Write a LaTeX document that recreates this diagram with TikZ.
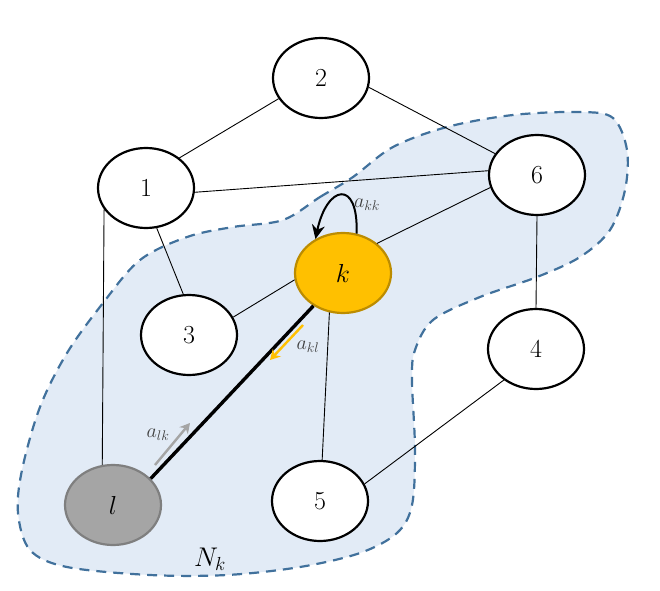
\RequirePackage{fix-cm}
\documentclass[tikz,border=0pt]{standalone}
\usetikzlibrary{shapes.geometric,arrows.meta}
\definecolor{blobfill}{HTML}{E2EBF6}
\definecolor{blobline}{HTML}{41719C}
\definecolor{kfill}{HTML}{FFC000}
\definecolor{kline}{HTML}{BC8C00}
\definecolor{lfill}{HTML}{A5A5A5}
\definecolor{lline}{HTML}{7F7F7F}
\definecolor{labgray}{HTML}{404040}
\begin{document}
\begin{tikzpicture}[x=1pt,y=1pt,>={Stealth[length=14pt,width=13pt]},
	vert/.style={ellipse,draw,line width=2.2pt,fill=white,minimum width=96pt,
		minimum height=80pt,inner sep=0pt,font=\fontsize{26}{30}\selectfont},
	edge/.style={line width=0.9pt},
	weight/.style={font=\fontsize{20}{22}\selectfont,text=labgray}]
	\useasboundingbox (0,0) rectangle (660,590);
	% neighbourhood of k
	\draw[blobline,fill=blobfill,line width=2.2pt,dash pattern=on 10pt off 7pt]
	plot[smooth cycle,tension=0.55] coordinates {(283,370) (320,393) (353,413)
		(393,443) (447,463) (513,475) (580,478) (613,472) (627,440) (625,400)
		(610,360) (580,333) (537,313) (480,293) (433,270) (415,240) (412,210)
		(415,140) (412,85) (397,57) (360,37) (300,23) (227,15) (150,15) (67,23)
		(30,40) (18,77) (22,120) (40,183) (67,237) (103,287) (140,330) (187,353)
		(233,363)};
	\node[weight,text=black,font=\fontsize{27}{30}\selectfont] (nk) at (210,31) {$N_k$};
	% nodes
	\node[vert] (n2) at (321,512) {2};
	\node[vert] (n1) at (146,402) {1};
	\node[vert] (n6) at (537,415) {6};
	\node[vert,fill=kfill,draw=kline] (k) at (343,317) {$k$};
	\node[vert] (n3) at (189,255) {3};
	\node[vert] (n4) at (536,241) {4};
	\node[vert] (n5) at (320,89) {5};
	\node[vert,fill=lfill,draw=lline] (l) at (113,85) {$l$};
	% links
	\draw[edge] (n1.42) -- (n2.206);
	\draw[edge] (n2.349) -- (n6.153);
	\draw[edge] (n1.355) -- (n6.175);
	\draw[edge] (n1.285) -- (n3.98);
	\draw[edge] (n1.207) -- (l.105);
	\draw[edge] (k.41) -- (n6.195);
	\draw[edge] (n3.22) -- (k.188);
	\draw[edge] (k.251) -- (n5.87);
	\draw[edge] (n6.270) -- (n4.90);
	\draw[edge] (n4.224) -- (n5.21);
	\draw[line width=3.4pt] (k.228) -- (l.35);
	% weights
	\draw[line width=2pt,->] (k.71) to[out=88,in=78,looseness=3.4] (k.129);
	\node[weight] (akk) at (367,385) {$a_{kk}$};
	\coordinate (kl1) at (303,265);
	\coordinate (kl2) at (270,230);
	\draw[kfill,line width=2.4pt,-{Stealth[length=10pt,width=11pt]}] (kl1) -- (kl2);
	\node[weight] (akl) at (308,243) {$a_{kl}$};
	\coordinate (lk1) at (155,125);
	\coordinate (lk2) at (190,167);
	\draw[lfill,line width=2.4pt,-{Stealth[length=10pt,width=11pt]}] (lk1) -- (lk2);
	\node[weight] (alk) at (158,155) {$a_{lk}$};
\end{tikzpicture}
\end{document}
